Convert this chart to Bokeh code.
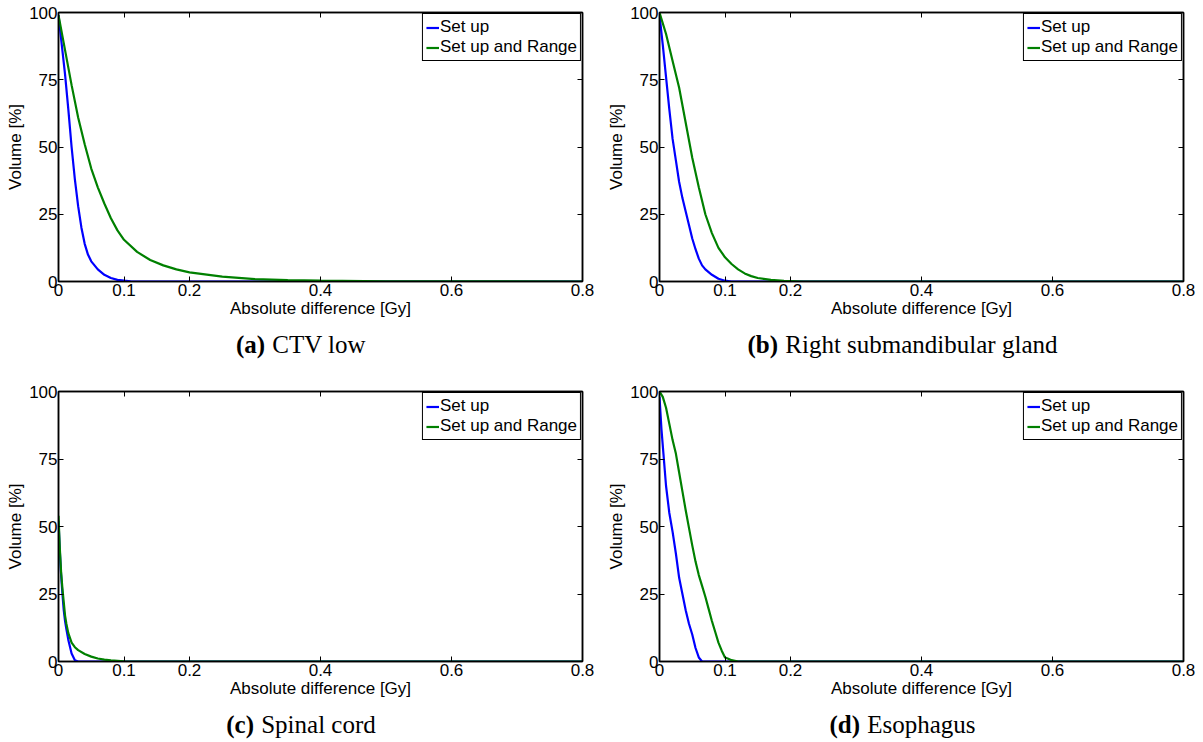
from bokeh.plotting import figure
from bokeh.layouts import column, row
from bokeh.models import Range1d, FixedTicker, LinearAxis, Legend, LegendItem
from bokeh.core.properties import value
from bokeh.embed import file_html
from bokeh.resources import INLINE

# ---------------- data ----------------
x_ticks = [0, 0.1, 0.2, 0.4, 0.6, 0.8]
x_tick_labels = ["0", "0.1", "0.2", "0.4", "0.6", "0.8"]
y_ticks = [0, 25, 50, 75, 100]
y_tick_labels = ["0", "25", "50", "75", "100"]
series_names = ["Set up", "Set up and Range"]
x_label = "Absolute difference [Gy]"
y_label = "Volume [%]"

captions_letter = ["(a)", "(b)", "(c)", "(d)"]
captions_text = ["CTV low", "Right submandibular gland", "Spinal cord", "Esophagus"]

# (a) CTV low
a_setup_x = [0, 0.005, 0.01, 0.015, 0.02, 0.025, 0.03, 0.035, 0.04, 0.045, 0.05, 0.06, 0.07, 0.08, 0.09, 0.1, 0.11, 0.12, 0.15, 0.2, 0.8]
a_setup_y = [99, 88, 77, 64, 50, 38, 28, 20, 14, 10, 7.5, 4.5, 2.5, 1.3, 0.6, 0.3, 0.1, 0, 0, 0, 0]
a_range_x = [0, 0.01, 0.02, 0.03, 0.04, 0.05, 0.06, 0.07, 0.08, 0.09, 0.1, 0.12, 0.14, 0.16, 0.18, 0.2, 0.25, 0.3, 0.35, 0.4, 0.5, 0.8]
a_range_y = [99, 86, 73, 61, 51, 42, 35, 29, 23.5, 19, 15.5, 11, 8, 6, 4.5, 3.4, 1.8, 0.9, 0.5, 0.3, 0.1, 0]

# (b) Right submandibular gland
b_setup_x = [0, 0.005, 0.01, 0.015, 0.02, 0.025, 0.03, 0.035, 0.04, 0.045, 0.05, 0.055, 0.06, 0.065, 0.07, 0.075, 0.08, 0.09, 0.1, 0.11, 0.2, 0.8]
b_setup_y = [99, 88, 76, 64, 53, 45, 37, 31, 26, 21, 16, 12, 8.5, 6, 4.5, 3.5, 2.5, 1, 0.3, 0, 0, 0]
b_range_x = [0, 0.01, 0.02, 0.03, 0.04, 0.05, 0.06, 0.07, 0.08, 0.09, 0.1, 0.11, 0.12, 0.13, 0.14, 0.15, 0.17, 0.19, 0.22, 0.8]
b_range_y = [100, 92, 82, 72, 59, 46, 35, 25, 18, 12.5, 9, 6.5, 4.5, 3, 2, 1.3, 0.6, 0.2, 0, 0]

# (c) Spinal cord
c_setup_x = [0, 0.002, 0.004, 0.006, 0.008, 0.01, 0.012, 0.015, 0.02, 0.025, 0.03, 0.8]
c_setup_y = [52, 41, 32, 25, 19, 15, 12, 8, 3, 0.5, 0, 0]
c_range_x = [0, 0.002, 0.004, 0.006, 0.008, 0.01, 0.012, 0.015, 0.02, 0.025, 0.03, 0.04, 0.05, 0.06, 0.07, 0.08, 0.1, 0.12, 0.8]
c_range_y = [54, 42, 33, 27, 22, 17, 14, 10.5, 7, 5.3, 4.2, 2.8, 1.8, 1.1, 0.7, 0.4, 0.1, 0, 0]

# (d) Esophagus
d_setup_x = [0, 0.003, 0.006, 0.01, 0.015, 0.02, 0.025, 0.03, 0.035, 0.04, 0.045, 0.05, 0.055, 0.06, 0.065, 0.07, 0.08, 0.8]
d_setup_y = [98, 86, 77, 65, 55, 48, 40, 31, 25, 19, 14, 10, 5, 1.5, 0, 0, 0, 0]
d_range_x = [0, 0.005, 0.01, 0.015, 0.02, 0.025, 0.03, 0.035, 0.04, 0.045, 0.05, 0.055, 0.06, 0.065, 0.07, 0.075, 0.08, 0.085, 0.09, 0.095, 0.1, 0.105, 0.11, 0.12, 0.8]
d_range_y = [100, 98, 94, 88, 82, 77, 70, 63, 56, 49.5, 43, 37, 32, 28, 24, 19.5, 15, 11, 7, 4, 1.5, 1, 0.5, 0, 0]

panels = [
    (a_setup_x, a_setup_y, a_range_x, a_range_y),
    (b_setup_x, b_setup_y, b_range_x, b_range_y),
    (c_setup_x, c_setup_y, c_range_x, c_range_y),
    (d_setup_x, d_setup_y, d_range_x, d_range_y),
]

# ---------------- style ----------------
SANS = "Liberation Sans"
SERIF = "Liberation Serif"
FS = "17px"
CAP_PX = 25
BLUE = "#0000FF"
GREEN = "#008000"
FRAME_LEFT = 58
FRAME_W = 524
X_MAX = 0.8

# approximate Times (Liberation Serif) advance widths, per 1000 em, for centring captions
_W_REG = {" ": 250, "(": 333, ")": 333, "a": 444, "b": 500, "c": 444, "d": 500, "e": 444,
          "g": 500, "h": 500, "i": 278, "l": 278, "m": 778, "n": 500, "o": 500, "p": 500,
          "r": 333, "s": 389, "t": 278, "u": 500, "w": 722, "C": 667, "E": 611, "R": 667,
          "S": 556, "T": 611, "V": 722}
_W_BOLD = {"(": 333, ")": 333, "a": 500, "b": 556, "c": 444, "d": 556}


def text_w(s, table, px):
    return sum(table.get(ch, 500) for ch in s) * px / 1000.0


def style_axis(ax, ticks, labels, show_labels=True):
    ax.ticker = FixedTicker(ticks=ticks)
    ax.axis_line_color = "black"
    ax.axis_line_width = 1.5
    ax.major_tick_in = 5
    ax.major_tick_out = 0
    ax.major_tick_line_color = "black"
    ax.major_tick_line_width = 1
    ax.minor_tick_line_color = None
    ax.major_label_text_font = SANS
    ax.major_label_text_color = "black"
    ax.major_label_text_font_size = FS
    if show_labels:
        ax.major_label_overrides = {t: l for t, l in zip(ticks, labels)}
    else:
        ax.major_label_overrides = {t: "" for t in ticks}
        ax.major_label_standoff = 0


def make_panel(i, width, height, bl, br, bt, bb):
    sx, sy, rx, ry = panels[i]
    p = figure(width=width, height=height, output_backend="svg", toolbar_location=None,
               x_range=Range1d(0, X_MAX), y_range=Range1d(0, 100),
               min_border_left=bl, min_border_right=br, min_border_top=bt, min_border_bottom=bb)
    p.grid.visible = False
    p.outline_line_color = "black"
    p.outline_line_width = 1.5
    p.background_fill_color = "white"
    p.border_fill_color = "white"

    style_axis(p.xaxis[0], x_ticks, x_tick_labels)
    style_axis(p.yaxis[0], y_ticks, y_tick_labels)
    p.xaxis[0].major_label_standoff = 2
    p.yaxis[0].major_label_standoff = 1
    p.xaxis[0].axis_label = x_label
    p.yaxis[0].axis_label = y_label
    for ax in (p.xaxis[0], p.yaxis[0]):
        ax.axis_label_text_font = SANS
        ax.axis_label_text_font_size = FS
        ax.axis_label_text_font_style = "normal"
        ax.axis_label_text_color = "black"
    p.xaxis[0].axis_label_standoff = 0
    p.yaxis[0].axis_label_standoff = 1

    top = LinearAxis()
    style_axis(top, x_ticks, x_tick_labels, show_labels=False)
    p.add_layout(top, "above")
    right = LinearAxis()
    style_axis(right, y_ticks, y_tick_labels, show_labels=False)
    p.add_layout(right, "right")

    r1 = p.line(sx, sy, line_color=BLUE, line_width=2.2)
    r2 = p.line(rx, ry, line_color=GREEN, line_width=2.2)
    leg = Legend(items=[LegendItem(label=series_names[0], renderers=[r1]),
                        LegendItem(label=series_names[1], renderers=[r2])],
                 location="top_right", margin=1, padding=3, spacing=0,
                 label_text_font=SANS, label_text_font_size=FS, label_text_color="black",
                 label_height=19, glyph_height=19, glyph_width=13, label_standoff=1,
                 border_line_color="black", border_line_width=1.5, border_line_alpha=1.0,
                 background_fill_color="white", background_fill_alpha=1.0)
    p.add_layout(leg, "center")
    return p


def make_caption(i, width, height, baseline_from_top):
    # caption strip; its frame is aligned with the plot frame above it by the layout,
    # so it shares the plot's x scale (0..0.8 over 524 px starting at 58 px)
    c = figure(width=width, height=height, output_backend="svg", toolbar_location=None,
               title=None, x_range=Range1d(0, X_MAX), y_range=Range1d(0, height),
               min_border_left=FRAME_LEFT, min_border_right=width - FRAME_LEFT - FRAME_W,
               min_border_top=0, min_border_bottom=0,
               x_axis_type=None, y_axis_type=None)
    c.grid.visible = False
    c.outline_line_color = None
    c.background_fill_color = "white"
    c.border_fill_color = "white"
    k = X_MAX / FRAME_W  # data units per pixel
    w_letter = text_w(captions_letter[i], _W_BOLD, CAP_PX)
    gap = text_w(" ", _W_REG, CAP_PX) + 1
    w_text = text_w(captions_text[i], _W_REG, CAP_PX)
    total = w_letter + gap + w_text
    cx_px = width / 2.0 - FRAME_LEFT
    start_px = cx_px - total / 2.0
    yb = height - baseline_from_top
    c.text(x=[(start_px + w_letter) * k], y=[yb], text=[captions_letter[i]], text_font=value(SERIF),
           text_font_style="bold", text_font_size=f"{CAP_PX}px", text_align="right",
           text_baseline="alphabetic", text_color="black")
    c.text(x=[(start_px + w_letter + gap) * k], y=[yb], text=[captions_text[i]], text_font=value(SERIF),
           text_font_style="normal", text_font_size=f"{CAP_PX}px", text_align="left",
           text_baseline="alphabetic", text_color="black")
    return c


p1 = make_panel(0, 601, 325, 58, 19, 12, 44)
p2 = make_panel(1, 602, 325, 58, 20, 12, 44)
p3 = make_panel(2, 601, 334, 58, 19, 20, 44)
p4 = make_panel(3, 602, 334, 58, 20, 20, 44)

c1 = make_caption(0, 601, 46, 19)
c2 = make_caption(1, 602, 46, 19)
c3 = make_caption(2, 601, 37, 19)
c4 = make_caption(3, 602, 37, 19)

layout = column(
    row(column(p1, c1, spacing=0), column(p2, c2, spacing=0), spacing=0),
    row(column(p3, c3, spacing=0), column(p4, c4, spacing=0), spacing=0),
    spacing=0,
)

open("out.html", "w").write(file_html(layout, INLINE))
